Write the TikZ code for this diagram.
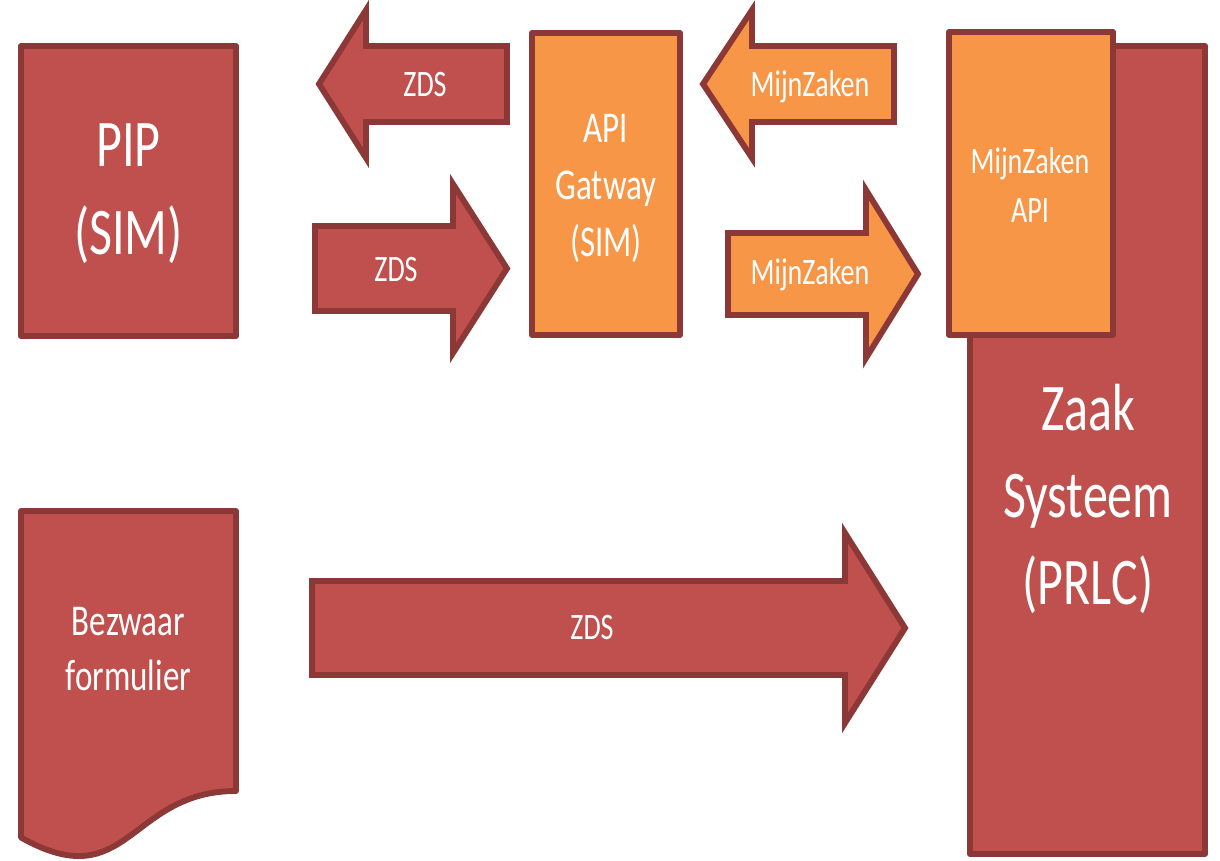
\documentclass[tikz,border=0pt]{standalone}
\usepackage{fontspec}
\setmainfont{Carlito}
\definecolor{rfill}{HTML}{C0504D}
\definecolor{ofill}{HTML}{F79646}
\definecolor{edgecol}{HTML}{8B3836}
\newcommand{\sqz}[3]{\scalebox{0.75}[1]{\fontsize{#1}{#2}\selectfont\begin{tabular}{@{}c@{}}#3\end{tabular}}}
\begin{document}
\begin{tikzpicture}[x=0.75pt,y=-0.75pt,
  blockred/.style={draw=edgecol, fill=rfill, line width=4.4pt, line join=round},
  blockorange/.style={draw=edgecol, fill=ofill, line width=4.4pt, line join=round},
  arrowred/.style={blockred, line join=miter, miter limit=10},
  arroworange/.style={blockorange, line join=miter, miter limit=10},
  lbl/.style={text=white, inner sep=0pt}]
\useasboundingbox[fill=white] (0,0) rectangle (1220,860);

% boxes
\draw[blockred] (21,46) rectangle (236,336);
\draw[blockorange] (532,33) rectangle (680,335);
\draw[blockred] (970,46) rectangle (1205,854);
\draw[blockorange] (949,32) rectangle (1113,335);
\draw[blockred] (21,511) -- (236,511) -- (236,791)
  .. controls (128.5,791) and (128.5,898) .. (21,837.5) -- cycle;

% block arrows
\draw[arrowred] (319,84) -- (366,10) -- (366,46) -- (507,46) -- (507,122)
  -- (366,122) -- (366,158) -- cycle;
\draw[arrowred] (315,226) -- (453,226) -- (453,184) -- (507,268.5)
  -- (453,353) -- (453,311) -- (315,311) -- cycle;
\draw[arroworange] (703,84) -- (752,10) -- (752,46) -- (894,46) -- (894,122)
  -- (752,122) -- (752,158) -- cycle;
\draw[arroworange] (728,233) -- (866,233) -- (866,190) -- (918,274)
  -- (866,358) -- (866,315) -- (728,315) -- cycle;
\draw[arrowred] (312,581) -- (845,581) -- (845,533) -- (905,628)
  -- (845,723) -- (845,675) -- (312,675) -- cycle;

% labels
\node[lbl] (pip) at (128.5,193) {\sqz{50}{66}{PIP\\(SIM)}};
\node[lbl] (gw) at (606,188) {\sqz{33}{43}{API\\Gatway\\(SIM)}};
\node[lbl] (mzapi) at (1030,188) {\sqz{28}{37}{MijnZaken\\API}};
\node[lbl] (zaak) at (1088,500) {\sqz{50}{65}{Zaak\\Systeem\\(PRLC)}};
\node[lbl] (bez) at (128.5,652) {\sqz{33}{41}{Bezwaar\\formulier}};
\node[lbl] (zds1) at (425,87) {\sqz{28}{34}{ZDS}};
\node[lbl] (zds2) at (396,272) {\sqz{28}{34}{ZDS}};
\node[lbl] (mz1) at (810,87) {\sqz{28}{34}{MijnZaken}};
\node[lbl] (mz2) at (810,275) {\sqz{28}{34}{MijnZaken}};
\node[lbl] (zds3) at (592,630) {\sqz{28}{34}{ZDS}};
\end{tikzpicture}
\end{document}
